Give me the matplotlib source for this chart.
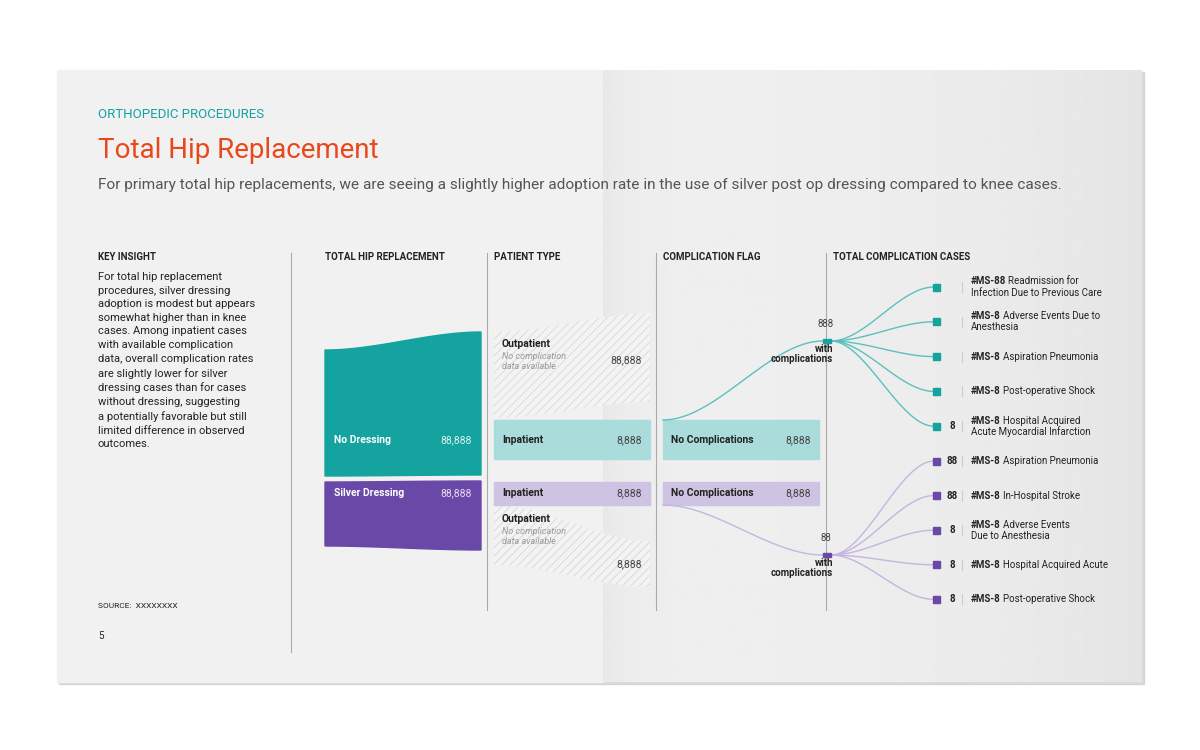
import numpy as np
import matplotlib.pyplot as plt
from matplotlib.patches import Rectangle, Polygon

plt.rcParams['font.family'] = ['Roboto', 'DejaVu Sans']
plt.rcParams['hatch.linewidth'] = 0.6

TEAL = '#14a39f'
TEAL_LIGHT = '#a9dcdb'
PURPLE = '#6a48a8'
PURPLE_LIGHT = '#cfc3e3'
DARK = '#222222'

# data
dressing = ['No Dressing', 'Silver Dressing']
dressing_vals = ['88,888', '88,888']
inpatient_vals = ['8,888', '8,888']
outpatient_vals = ['88,888', '8,888']
nocomp_vals = ['8,888', '8,888']
withcomp_vals = ['888', '88']
teal_codes = ['#MS-88', '#MS-8', '#MS-8', '#MS-8', '#MS-8']
teal_labels = ['Readmission for\nInfection Due to Previous Care', 'Adverse Events Due to\nAnesthesia',
               'Aspiration Pneumonia', 'Post-operative Shock', 'Hospital Acquired\nAcute Myocardial Infarction']
teal_counts = ['', '', '', '', '8']
purple_codes = ['#MS-8'] * 5
purple_labels = ['Aspiration Pneumonia', 'In-Hospital Stroke', 'Adverse Events\nDue to Anesthesia',
                 'Hospital Acquired Acute', 'Post-operative Shock']
purple_counts = ['88', '88', '8', '8', '8']

fig = plt.figure(figsize=(12, 7.5), dpi=100)
fig.patch.set_facecolor('white')
ax = fig.add_axes([0, 0, 1, 1])
ax.axis('off')

# page
ax.add_patch(Rectangle((59, 72), 1085, 612, color='#c4c4c4', alpha=0.6, zorder=0))
ax.add_patch(Rectangle((57, 70), 546, 612, color='#f1f1f1', zorder=1))
g = np.linspace(0, 1, 300)
shade = 0.935 - 0.025 * np.exp(-g * 25) - 0.04 * g ** 3
ax.imshow(np.vstack([shade] * 2), cmap='gray', vmin=0, vmax=1, extent=(603, 1142, 682, 70),
          aspect='auto', zorder=1)
ax.set_xlim(0, 1200)
ax.set_ylim(750, 0)


def smooth(t):
    return t * t * (3 - 2 * t)


def band(x0, x1, top0, top1, bot0, bot1, **kw):
    t = np.linspace(0, 1, 60)
    s = smooth(t)
    xs = x0 + (x1 - x0) * t
    top = top0 + (top1 - top0) * s
    bot = bot0 + (bot1 - bot0) * s
    pts = np.vstack([np.column_stack([xs, top]), np.column_stack([xs[::-1], bot[::-1]])])
    ax.add_patch(Polygon(pts, closed=True, zorder=3, **kw))


def curve(x0, y0, x1, y1, color, lw=1.0):
    t = np.linspace(0, 1, 60)
    ax.plot(x0 + (x1 - x0) * t, y0 + (y1 - y0) * smooth(t), color=color, lw=lw, zorder=3)


# header text
ax.text(98, 115, 'ORTHOPEDIC PROCEDURES', color=TEAL, fontsize=9.5, va='center')
ax.text(98, 151, 'Total Hip Replacement', color='#e8481c', fontsize=20, va='center')
ax.text(98, 185, 'For primary total hip replacements, we are seeing a slightly higher adoption rate in the use '
        'of silver post op dressing compared to knee cases.', color='#555555', fontsize=11.1, va='center')

for x, h in zip([98, 325, 494, 663, 833],
                ['KEY INSIGHT', 'TOTAL HIP REPLACEMENT', 'PATIENT TYPE', 'COMPLICATION FLAG',
                 'TOTAL COMPLICATION CASES']):
    ax.text(x, 257, h, fontsize=7, fontweight='bold', color=DARK, va='center', zorder=5)
for x in [291, 487, 656, 826]:
    ax.plot([x, x], [253, 652 if x == 291 else 610], color='#aaaaaa', lw=0.8, zorder=2)

ax.text(98, 272, 'For total hip replacement\nprocedures, silver dressing\nadoption is modest but appears\n'
        'somewhat higher than in knee\ncases. Among inpatient cases\nwith available complication\n'
        'data, overall complication rates\nare slightly lower for silver\ndressing cases than for cases\n'
        'without dressing, suggesting\na potentially favorable but still\nlimited difference in observed\n'
        'outcomes.', fontsize=8, color=DARK, va='top', linespacing=1.45)
ax.text(98, 606, 'SOURCE:  XXXXXXXX', fontsize=6, color=DARK, va='center')
ax.text(98, 636, '5', fontsize=7, color=DARK, va='center')

# first column flows
band(325, 481, 350, 332, 476, 475, color=TEAL)
band(325, 481, 482, 481, 546, 550, color=PURPLE)
ax.text(334, 440, dressing[0], color='white', fontsize=7.5, fontweight='bold', va='center', zorder=5)
ax.text(472, 440, dressing_vals[0], color='#d8f0ef', fontsize=7.5, ha='right', va='center', zorder=5)
ax.text(334, 493, dressing[1], color='white', fontsize=7.5, fontweight='bold', va='center', zorder=5)
ax.text(472, 493, dressing_vals[1], color='#e4dcf2', fontsize=7.5, ha='right', va='center', zorder=5)

# patient type
band(494, 650, 332, 313, 418, 402, facecolor='#f3f3f3', edgecolor='#d3dada', hatch='////', lw=0)
band(494, 650, 505, 541, 565, 587, facecolor='#f3f3f3', edgecolor='#d8d4e0', hatch='////', lw=0)
ax.add_patch(Rectangle((494, 420), 156, 39, color=TEAL_LIGHT, zorder=3))
ax.add_patch(Rectangle((494, 482), 156, 23, color=PURPLE_LIGHT, zorder=3))
for y, v in [(440, inpatient_vals[0]), (493, inpatient_vals[1])]:
    ax.text(502, y, 'Inpatient', fontsize=7.5, fontweight='bold', color=DARK, va='center', zorder=5)
    ax.text(642, y, v, fontsize=7.5, color='#444444', ha='right', va='center', zorder=5)
for y, vy, v in [(344, 360, outpatient_vals[0]), (519, 564, outpatient_vals[1])]:
    ax.text(502, y, 'Outpatient', fontsize=7.5, fontweight='bold', color=DARK, va='center', zorder=5)
    ax.text(502, y + 8, 'No complication\ndata available', fontsize=6.5, style='italic',
            color='#999999', va='top', zorder=5)
    ax.text(642, vy, v, fontsize=7.5, color='#444444', ha='right', va='center', zorder=5)

# complication flag
ax.add_patch(Rectangle((663, 420), 156, 39, color=TEAL_LIGHT, zorder=3))
ax.add_patch(Rectangle((663, 482), 156, 23, color=PURPLE_LIGHT, zorder=3))
for y, v in [(440, nocomp_vals[0]), (493, nocomp_vals[1])]:
    ax.text(671, y, 'No Complications', fontsize=7.5, fontweight='bold', color=DARK, va='center', zorder=5)
    ax.text(811, y, v, fontsize=7.5, color='#444444', ha='right', va='center', zorder=5)

curve(663, 420, 823, 341, '#5cc0bd')
curve(663, 505, 823, 555, '#c3b6e0')
for y, v, c in [(341, withcomp_vals[0], TEAL), (555, withcomp_vals[1], PURPLE)]:
    ax.add_patch(Rectangle((823, y - 2), 8, 4, color=c, zorder=6))
    ax.text(826, y - 17, v, fontsize=7, color='#444444', ha='center', va='center', zorder=5)
    ax.text(833, y + 13, 'with\ncomplications', fontsize=7, fontweight='bold', color=DARK,
            ha='right', va='center', linespacing=1.1, zorder=5)

# complication cases
rows = [(287 + i * 34.8, teal_codes[i], teal_labels[i], teal_counts[i], TEAL, 341, '#5cc0bd') for i in range(5)]
rows += [(461 + i * 34.6, purple_codes[i], purple_labels[i], purple_counts[i], PURPLE, 555, '#c3b6e0')
         for i in range(5)]
renderer = fig.canvas.get_renderer()
for y, code, lab, cnt, c, y0, lc in rows:
    curve(831, y0, 934, y, lc)
    ax.add_patch(Rectangle((933, y - 3.5), 7, 7, color=c, zorder=6))
    ax.text(952, y, cnt, fontsize=7, fontweight='bold', color=DARK, ha='center', va='center', zorder=5)
    ax.plot([962, 962], [y - 5, y + 5], color='#cccccc', lw=0.8, zorder=4)
    lines = lab.split('\n')
    y1 = y if len(lines) == 1 else y - 5.5
    t = ax.text(971, y1, code, fontsize=7, fontweight='bold', color=DARK, va='center', zorder=5)
    w = t.get_window_extent(renderer).width
    ax.text(971 + w + 2, y1, lines[0], fontsize=7, color=DARK, va='center', zorder=5)
    if len(lines) > 1:
        ax.text(971, y + 5.5, lines[1], fontsize=7, color=DARK, va='center', zorder=5)

fig.savefig('out.png', dpi=100)
